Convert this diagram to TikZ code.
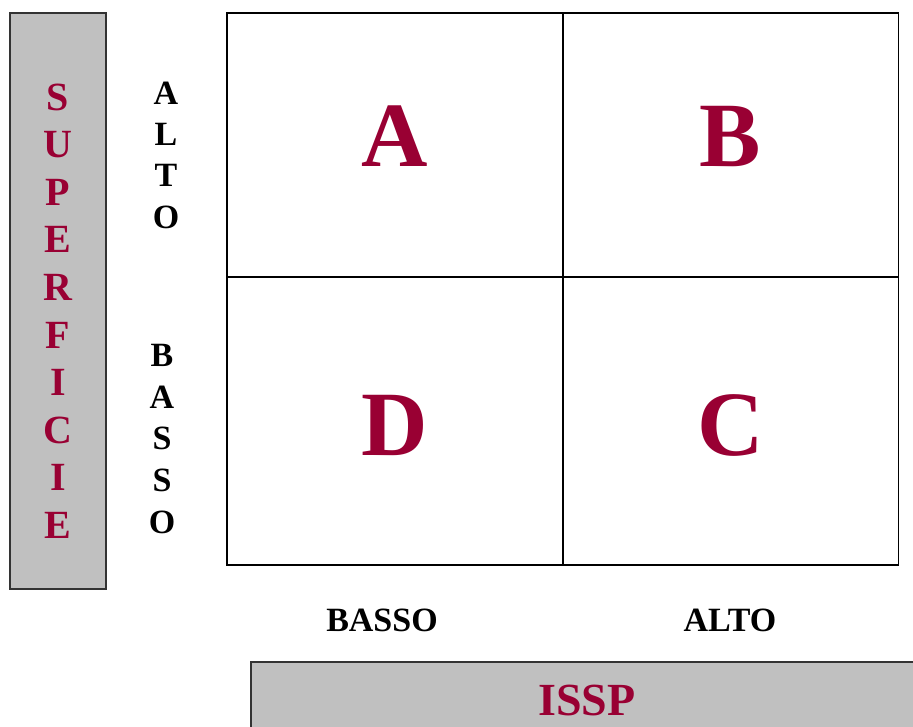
\documentclass[tikz,border=0pt]{standalone}
\usepackage{fontspec}
\setmainfont{Liberation Serif}
\definecolor{crim}{HTML}{990033}
\definecolor{boxgray}{HTML}{C0C0C0}
\definecolor{edge}{HTML}{333333}
\begin{document}
\begin{tikzpicture}[x=1pt,y=-1pt,
  cell/.style={draw=black,line width=1.3pt,minimum width=336pt,minimum height=0pt,inner sep=0pt},
  axisbox/.style={draw=edge,fill=boxgray,line width=1.5pt,inner sep=0pt},
  bigletter/.style={text=crim,font=\fontsize{92}{92}\bfseries\selectfont,inner sep=0pt},
  vlabel/.style={align=center,inner sep=0pt},
  hlabel/.style={font=\fontsize{34}{40}\bfseries\selectfont,inner sep=0pt}]
\useasboundingbox (0,0) rectangle (913,726);
% grid
\node[cell,minimum height=264pt] (ca) at (395,145) {};
\node[cell,minimum height=264pt] (cb) at (730.5,145) {};
\node[cell,minimum height=288pt] (cd) at (395,421) {};
\node[cell,minimum height=288pt] (cc) at (730.5,421) {};
\node[bigletter] (la) at (395,136) {A};
\node[bigletter] (lb) at (730.5,137) {B};
\node[bigletter] (ld) at (395,425) {D};
\node[bigletter] (lc) at (730.5,425) {C};
% left axis box
\node[axisbox,minimum width=96pt,minimum height=576pt] (sbox) at (58,301) {};
\node[vlabel,text=crim,font=\fontsize{40}{47.6}\bfseries\selectfont] (sup) at (58,311)
  {S\\U\\P\\E\\R\\F\\I\\C\\I\\E};
\node[vlabel,font=\fontsize{34}{41.3}\bfseries\selectfont] (yalto) at (166,155) {A\\L\\T\\O};
\node[vlabel,font=\fontsize{34}{41.8}\bfseries\selectfont] (ybasso) at (162,439) {B\\A\\S\\S\\O};
% bottom labels
\node[hlabel] (xbasso) at (382,620) {BASSO};
\node[hlabel] (xalto) at (730,620) {ALTO};
% bottom axis box
\node[axisbox,minimum width=680pt,minimum height=90pt,anchor=north west] (ibox) at (250,661) {};
\node[text=crim,font=\fontsize{46}{50}\bfseries\selectfont,inner sep=0pt] (issp) at (587,700) {ISSP};
\end{tikzpicture}
\end{document}
